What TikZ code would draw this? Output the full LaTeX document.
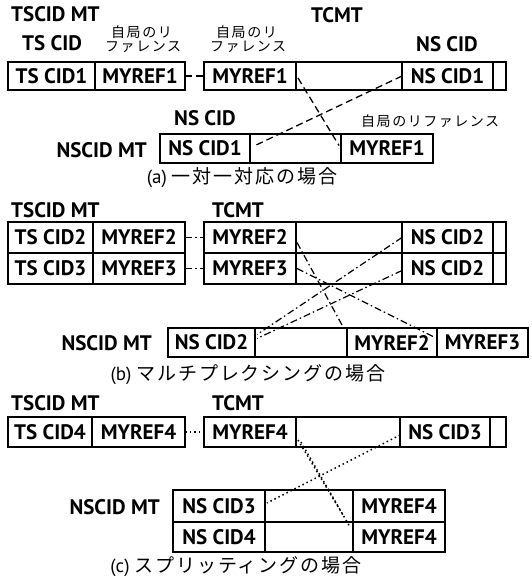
\documentclass[tikz,border=0pt]{standalone}
\usepackage{fontspec}
\setmainfont{PT Sans}
\newfontfamily\jpl[LetterSpace=11]{Noto Sans CJK JP}
\newfontfamily\jpc[LetterSpace=10]{Noto Sans CJK JP}
\usetikzlibrary{calc}
\tikzset{
 cell/.style={draw, line width=1.3pt, anchor=north west, inner sep=0pt, outer sep=0pt, font=\fontsize{21}{23}\selectfont\bfseries},
 frame/.style={draw, line width=2.6pt},
 lbl/.style={inner sep=0pt, font=\fontsize{21}{23}\selectfont\bfseries},
 jlbl/.style={inner sep=0pt, anchor=west, font=\fontsize{14}{16}\selectfont\jpl},
 capt/.style={inner sep=0pt, font=\fontsize{19}{21}\selectfont},
 dsh/.style={line width=1.3pt, dash pattern=on 7pt off 4pt},
 ddot/.style={line width=1.2pt, dash pattern=on 7pt off 3pt on 1.5pt off 3pt},
 dotl/.style={line width=1.5pt, dash pattern=on 1.5pt off 3pt},
}
\newcommand\mkcell[6]{\node[cell,minimum width=#4pt,minimum height=#5pt] (#1) at (#2,#3) {#6};}
\begin{document}
\begin{tikzpicture}[x=1pt,y=-1pt]
\useasboundingbox[fill=white] (0,0) rectangle (532,578);
% ---------------- (a)
\mkcell{aTs}{8}{62}{87}{28}{TS CID1}
\mkcell{aRef}{95}{62}{90}{28}{MYREF1}
\mkcell{aTRef}{204}{62}{92}{28}{MYREF1}
\mkcell{aTEmp}{296}{62}{106}{28}{}
\mkcell{aTNs}{402}{62}{91}{28}{NS CID1}
\mkcell{aTEnd}{493}{62}{13}{28}{}
\mkcell{aNNs}{160}{134}{90}{29}{NS CID1}
\mkcell{aNEmp}{250}{134}{91}{29}{}
\mkcell{aNRef}{341}{134}{92}{29}{MYREF1}
\draw[frame] (aTs.north west) rectangle (aRef.south east);
\draw[frame] (aTRef.north west) rectangle (aTEnd.south east);
\draw[frame] (aNNs.north west) rectangle (aNRef.south east);
\draw[dsh] (aRef.east) -- (aTRef.west);
\draw[dsh] ($(aTEmp.west)+(2,2)$) -- ($(aNRef.west)+(-2,-3)$);
\draw[dsh] (aTNs.west) -- ($(aNEmp.west)+(3,-2)$);
\node[lbl, anchor=west] (aT1) at (11,14) {TSCID MT};
\node[lbl] (aT2) at (52,43) {TS CID};
\node[jlbl] (aT3) at (111,32) {自局のリ};
\node[jlbl] (aT4) at (105,47) {ファレンス};
\node[jlbl] (aT5) at (216,32) {自局のリ};
\node[jlbl] (aT6) at (210,47) {ファレンス};
\node[lbl] (aT7) at (337,15) {TCMT};
\node[lbl] (aT8) at (447,44) {NS CID};
\node[lbl] (aT9) at (205,118) {NS CID};
\node[jlbl] (aT10) at (361,121) {自局のリファレンス};
\node[lbl, anchor=east] (aT11) at (147,150) {NSCID MT};
\node[capt] (aCap) at (242,178) {(a) {\jpc 一対一対応の場合}};
% ---------------- (b)
\mkcell{bTs2}{8}{222}{85}{31}{TS CID2}
\mkcell{bRef2}{93}{222}{92}{31}{MYREF2}
\mkcell{bTs3}{8}{253}{85}{31}{TS CID3}
\mkcell{bRef3}{93}{253}{92}{31}{MYREF3}
\mkcell{bTRef2}{204}{222}{92}{31}{MYREF2}
\mkcell{bTEmp2}{296}{222}{106}{31}{}
\mkcell{bTNs2}{402}{222}{91}{31}{NS CID2}
\mkcell{bTEnd2}{493}{222}{13}{31}{}
\mkcell{bTRef3}{204}{253}{92}{31}{MYREF3}
\mkcell{bTEmp3}{296}{253}{106}{31}{}
\mkcell{bTNs3}{402}{253}{91}{31}{NS CID2}
\mkcell{bTEnd3}{493}{253}{13}{31}{}
\mkcell{bNNs}{168}{328}{87}{29}{NS CID2}
\mkcell{bNEmp}{255}{328}{92}{29}{}
\mkcell{bNRef2}{347}{328}{90}{29}{MYREF2}
\mkcell{bNRef3}{437}{328}{91}{29}{MYREF3}
\draw[frame] (bTs2.north west) rectangle (bRef3.south east);
\draw[frame] (bTRef2.north west) rectangle (bTEnd3.south east);
\draw[frame] (bNNs.north west) rectangle (bNRef2.south east);
\draw[frame] (bNRef3.north west) rectangle (bNRef3.south east);
\draw[ddot] (bRef2.east) -- (bTRef2.west);
\draw[ddot] (bRef3.east) -- (bTRef3.west);
\draw[ddot] ($(bTEmp2.west)+(1,5)$) -- ($(bNRef2.north west)+(-5,-3)$);
\draw[ddot] ($(bTEmp3.west)+(1,0)$) -- ($(bNRef3.west)+(-2,-5)$);
\draw[ddot] (bTNs2.west) -- ($(bNEmp.west)+(2,-8)$);
\draw[ddot] ($(bTNs3.west)+(0,2)$) -- ($(bNEmp.west)+(2,-4)$);
\node[lbl, anchor=west] (bT1) at (11,210) {TSCID MT};
\node[lbl, anchor=west] (bT2) at (212,210) {TCMT};
\node[lbl, anchor=east] (bT3) at (152,343) {NSCID MT};
\node[capt] (bCap) at (248,375) {(b) {\jpc マルチプレクシングの場合}};
% ---------------- (c)
\mkcell{cTs}{8}{417}{84}{30}{TS CID4}
\mkcell{cRef}{92}{417}{93}{30}{MYREF4}
\mkcell{cTRef}{204}{417}{92}{30}{MYREF4}
\mkcell{cTEmp}{296}{417}{104}{30}{}
\mkcell{cTNs}{400}{417}{90}{30}{NS CID3}
\mkcell{cTEnd}{490}{417}{16}{30}{}
\mkcell{cN3}{173}{490}{92}{32}{NS CID3}
\mkcell{cNE1}{265}{490}{88}{32}{}
\mkcell{cNR1}{353}{490}{92}{32}{MYREF4}
\mkcell{cN4}{173}{522}{92}{30}{NS CID4}
\mkcell{cNE2}{265}{522}{88}{30}{}
\mkcell{cNR2}{353}{522}{92}{30}{MYREF4}
\draw[frame] (cTs.north west) rectangle (cRef.south east);
\draw[frame] (cTRef.north west) rectangle (cTEnd.south east);
\draw[frame] (cN3.north west) rectangle (cNR2.south east);
\draw[dotl] (cRef.east) -- (cTRef.west);
\draw[dotl] ($(cTEmp.west)+(2,8)$) -- ($(cNR1.west)+(-10,9)$);
\draw[dotl] ($(cTEmp.west)+(5,10)$) -- ($(cNR2.north west)+(-3,5)$);
\draw[dotl] ($(cTNs.west)+(0,3)$) -- ($(cNE1.west)+(2,-3)$);
\node[lbl, anchor=west] (cT1) at (11,403) {TSCID MT};
\node[lbl, anchor=west] (cT2) at (212,403) {TCMT};
\node[lbl, anchor=east] (cT3) at (160,507) {NSCID MT};
\node[capt] (cCap) at (236,567) {(c) {\jpc スプリッティングの場合}};
\end{tikzpicture}
\end{document}
